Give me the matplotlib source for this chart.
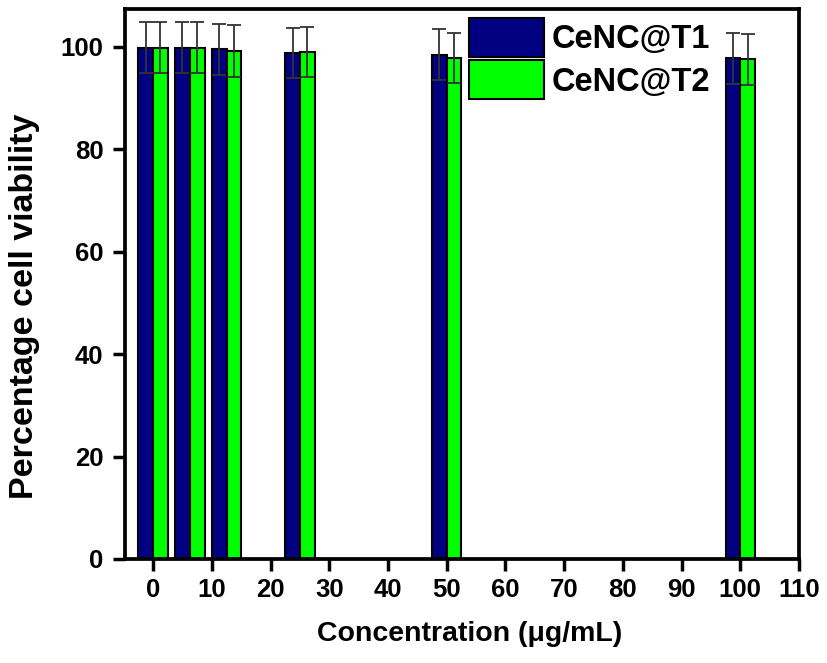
import numpy as np
import matplotlib
matplotlib.use("Agg")
import matplotlib.pyplot as plt

# Data
conc = [0, 6.25, 12.5, 25, 50, 100]
t1_mean = [99.8, 99.8, 99.5, 98.8, 98.5, 97.8]
t1_err = [5.0, 5.0, 5.0, 4.9, 4.9, 5.0]
t2_mean = [99.8, 99.8, 99.2, 99.0, 97.9, 97.6]
t2_err = [5.0, 5.0, 5.0, 4.9, 4.9, 5.0]
xticks = [0, 10, 20, 30, 40, 50, 60, 70, 80, 90, 100, 110]
yticks = [0, 20, 40, 60, 80, 100]

plt.rcParams['font.family'] = ['Liberation Sans', 'DejaVu Sans']
plt.rcParams['font.weight'] = 'bold'

fig = plt.figure(figsize=(8.27, 6.63), dpi=100)
ax = fig.add_axes([0.1511, 0.1569, 0.815, 0.8296])

x = np.array(conc)
w = 2.5
ekw = dict(ecolor="#333333", elinewidth=1.3, capsize=5, capthick=1.3)
ax.bar(x - w / 2, t1_mean, w, yerr=t1_err, color="#000080", edgecolor="black",
       linewidth=1.5, label="CeNC@T1", error_kw=ekw)
ax.bar(x + w / 2, t2_mean, w, yerr=t2_err, color="#00ff00", edgecolor="black",
       linewidth=1.5, label="CeNC@T2", error_kw=ekw)

ax.set_xlim(-4.8, 110)
ax.set_ylim(0, 107.4)
ax.set_xticks(xticks)
ax.set_yticks(yticks)
ax.tick_params(direction="out", length=8.5, width=2.5, labelsize=18.5)
ax.tick_params(axis="x", pad=5.5)
ax.tick_params(axis="y", pad=7)
for s in ax.spines.values():
    s.set_linewidth(2.7)

ax.set_xlabel("Concentration (\u03bcg/mL)", fontsize=20.5, fontweight="bold")
ax.set_ylabel("Percentage cell viability", fontsize=24.5, fontweight="bold")
ax.xaxis.set_label_coords(0.512, -0.113)
ax.yaxis.set_label_coords(-0.126, 0.46)

leg = ax.legend(loc="upper left", bbox_to_anchor=(0.51, 0.984), frameon=False,
                fontsize=23.5, handlelength=2.3, handleheight=1.45,
                handletextpad=0.25, labelspacing=0.12, borderaxespad=0,
                borderpad=0)

plt.savefig("out.png", dpi=100)
